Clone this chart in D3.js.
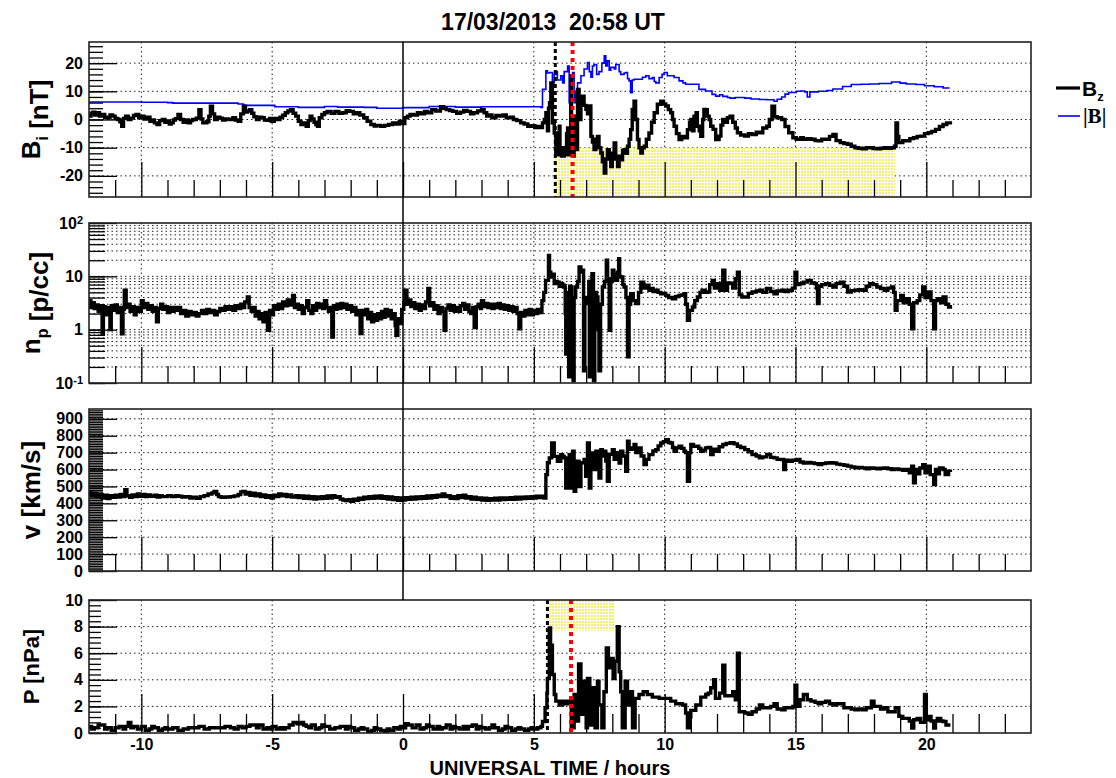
<!DOCTYPE html>
<html>
<head>
<meta charset="utf-8">
<script src="https://cdn.jsdelivr.net/npm/d3@7"></script>
<style>
  body { margin: 0; background: #fff; }
  text { font-family: "Liberation Sans", Arial, Helvetica, sans-serif; font-weight: bold; fill: #000; }
</style>
</head>
<body>
<svg id="chart" width="1116" height="778"></svg>
<script>
// ---- data ----
var hourTicks = [-10, -5, 0, 5, 10, 15, 20];
var bzTicks = [-20, -10, 0, 10, 20];
var npTicks = [0.1, 1, 10, 100];
var vTicks = [0, 100, 200, 300, 400, 500, 600, 700, 800, 900];
var pTicks = [0, 2, 4, 6, 8, 10];

var bzMarkers = [5.82, 6.48];   // black dashed, red dotted
var pMarkers = [5.52, 6.42];
var bzShade = [5.82, 18.8, -10];  // t from, t to, upper value
var pShade = [5.5, 8.1, 7.7];     // t from, t to, lower value

var bz = [[-12,1.2],[-11.92,2.2],[-11.85,2.6],[-11.78,1.6],[-11.7,2.4],[-11.6,1.2],[-11.5,1.8],[-11.4,0.8],[-11.3,0.6],[-11.2,1.6],[-11.1,1.2],[-11,0.4],[-10.9,0],[-10.82,-0.8],[-10.75,-2.4],[-10.68,0.4],[-10.6,1.2],[-10.5,0],[-10.4,0.5],[-10.3,1.4],[-10.2,1.8],[-10.1,0.6],[-10,1.2],[-9.9,0.2],[-9.8,0.8],[-9.67,-0.6],[-9.58,-0.2],[-9.5,-1.2],[-9.4,-1.8],[-9.3,-0.4],[-9.2,0],[-9.1,-1],[-9,-0.5],[-8.93,-1.6],[-8.86,-1.2],[-8.78,-0.2],[-8.7,0.3],[-8.6,1.8],[-8.5,0],[-8.4,-1],[-8.3,-0.2],[-8.2,-1.2],[-8.12,-0.4],[-8.04,0],[-7.9,0.5],[-7.8,3.5],[-7.72,0.2],[-7.65,-1.2],[-7.5,-0.8],[-7.42,1.2],[-7.36,4.7],[-7.28,2],[-7.2,0],[-7.1,0.8],[-7,0.5],[-6.9,-0.2],[-6.8,0.2],[-6.65,0],[-6.5,0.6],[-6.4,-0.2],[-6.3,-0.6],[-6.2,2],[-6.1,4.7],[-6.02,2.6],[-5.95,3],[-5.86,3.5],[-5.78,2.2],[-5.7,1],[-5.6,0],[-5.5,0.8],[-5.4,0.6],[-5.3,-0.2],[-5.2,-0.3],[-5.1,0.4],[-5.04,-0.6],[-4.92,0.4],[-4.8,0],[-4.7,0.8],[-4.6,1.5],[-4.5,2.4],[-4.4,3],[-4.3,3.5],[-4.2,2.2],[-4.1,1.2],[-4,-0.6],[-3.9,-1.8],[-3.8,-1.2],[-3.7,-2.4],[-3.62,-0.4],[-3.55,1.2],[-3.48,0.2],[-3.4,-1],[-3.33,-1.8],[-3.27,-2.4],[-3.2,0.6],[-3.1,1.8],[-3,2.4],[-2.9,2.9],[-2.75,2.2],[-2.6,2.9],[-2.45,2.2],[-2.3,2.4],[-2.17,3.1],[-2.04,2.9],[-1.9,2],[-1.77,2.4],[-1.65,1.6],[-1.5,0.6],[-1.37,-0.6],[-1.23,-1.8],[-1.1,-2.3],[-1,-2.1],[-0.85,-2.4],[-0.7,-2.1],[-0.55,-1.8],[-0.4,-1.2],[-0.27,-1.6],[-0.14,-0.6],[-0.04,-1.4],[0.07,0.6],[0.17,1.2],[0.27,1.8],[0.4,1.6],[0.55,2.4],[0.68,2],[0.82,2.9],[0.95,2.4],[1.1,3.5],[1.25,3],[1.43,4.5],[1.55,4],[1.65,3.5],[1.78,3.2],[1.9,2.9],[2.05,2.2],[2.2,2.6],[2.32,3.2],[2.45,2.9],[2.58,2],[2.7,2.4],[2.85,3],[3,3.5],[3.1,2.4],[3.2,1.2],[3.3,1.6],[3.4,0.6],[3.55,1.4],[3.68,1.2],[3.82,1.6],[3.95,0.6],[4.1,0.8],[4.22,0],[4.35,-0.4],[4.5,-1.2],[4.63,-1.6],[4.77,-2.4],[4.9,-2.2],[5.04,-2.9],[5.15,-2.5],[5.25,-2.9],
  [5.33,-1.2],[5.4,0],[5.46,2.4],[5.52,-4],[5.56,4],[5.6,6],[5.65,13],[5.71,-1.2],[5.78,-4.8],[5.84,-11.9],[5.87,-9],[5.9,-12.5],[5.93,-10],[5.97,-2.4],[6,-12],[6.03,-10],[6.06,-13],[6.1,-11],[6.13,-13],[6.16,-10],[6.19,-12.5],[6.22,-10.7],[6.25,-5],[6.29,-3],[6.32,-12],[6.35,-12.5],[6.38,-8],[6.41,15.5],[6.44,-10],[6.48,-13],[6.54,1.2],[6.6,-10.7],[6.67,10.7],[6.73,0],[6.8,5],[6.86,8.3],[6.92,5],[6.99,3.6],[7.05,2],[7.12,4.8],[7.18,-6],[7.24,-8],[7.3,-10.7],[7.37,-7],[7.43,-6],[7.49,-10],[7.56,-11.9],[7.62,-15],[7.69,-19],[7.75,-14],[7.81,-10.7],[7.88,-13],[7.94,-16.7],[8,-12],[8.07,-8.3],[8.13,-14],[8.2,-16.7],[8.26,-13],[8.32,-14.3],[8.39,-11],[8.45,-10.7],[8.51,-12],[8.58,-9.5],[8.64,-7],[8.7,-3.6],[8.76,3.6],[8.83,6.5],[8.89,0],[8.96,-7.1],[9.02,-10],[9.09,-11.9],[9.15,-10],[9.22,-9.5],[9.3,-7],[9.4,-4.8],[9.5,-1],[9.6,2.4],[9.72,5.4],[9.85,6.5],[9.95,5.5],[10.04,4.8],[10.14,3.5],[10.23,2.4],[10.3,0],[10.36,-2.4],[10.45,-5],[10.55,-7.1],[10.65,-6],[10.74,-6.5],[10.87,-3.6],[10.95,-1],[11,0],[11.06,-4],[11.12,1.2],[11.2,2.4],[11.25,-2.4],[11.32,-4],[11.38,-6],[11.45,0],[11.5,3.6],[11.56,3.5],[11.63,1.2],[11.7,0],[11.76,-2.4],[11.85,-3.5],[11.95,-7.1],[12.08,-5.9],[12.15,-2],[12.22,0],[12.3,-1],[12.4,0.6],[12.5,1.2],[12.6,-1],[12.7,-3],[12.78,-4.7],[12.9,-5.5],[13.06,-5.9],[13.2,-5],[13.34,-5.3],[13.5,-4.5],[13.62,-4.7],[13.75,-3],[13.9,-2.4],[14,0],[14.1,4.7],[14.2,1],[14.3,0.6],[14.47,0],[14.6,-2.5],[14.74,-4.7],[14.9,-6.5],[15.03,-7],[15.2,-6.5],[15.3,-7],[15.45,-6.8],[15.59,-7],[15.75,-7.5],[15.87,-7.6],[16,-7],[16.15,-7],[16.3,-6],[16.43,-5.3],[16.55,-7.5],[16.71,-8.2],[16.85,-8.5],[16.99,-8.8],[17.13,-9.5],[17.27,-10],[17.4,-10.2],[17.55,-10.4],[17.7,-10],[17.83,-10],[17.97,-10.3],[18.11,-10.4],[18.25,-10.2],[18.39,-10],[18.53,-10.2],[18.67,-10],[18.78,-9.5],[18.84,-1.2],[18.9,-6],[18.95,-8.2],[19.1,-7.5],[19.23,-7.6],[19.37,-6.8],[19.51,-6.5],[19.65,-6],[19.79,-5.9],[19.93,-5],[20.07,-4.7],[20.2,-4.2],[20.35,-3.5],[20.5,-2.5],[20.64,-1.8],[20.78,-1.2],[20.92,-1.8]];

var bt = [[-12,6.2],[-10,6.1],[-9,6],[-8.8,5.8],[-7,5.8],[-6.3,5.5],[-6.1,5],[-5,5],[-4.9,4.5],[-4,4.3],[-3,4.6],[-2.5,4.4],[-1.5,4.3],[-1,4],[0,4.2],[1,4.6],[2,4.4],[3,4.5],[4,4.5],[5,4.5],[5.27,4.3],
  [5.33,10.7],[5.46,17.3],[5.52,16.5],[5.6,16.7],[5.71,13],[5.78,16],[5.84,17],[5.9,14],[6.03,15.5],[6.1,13],[6.16,17],[6.29,19],[6.35,6],[6.41,14],[6.48,16.7],[6.54,6],[6.6,10],[6.67,13],[6.8,15.5],[6.92,17.9],[7.05,20.2],[7.12,17],[7.18,15],[7.24,19],[7.3,19.5],[7.4,16],[7.49,17],[7.6,20],[7.69,22.6],[7.75,19],[7.81,20.8],[7.88,17.5],[7.94,18.5],[8.07,17.9],[8.13,19.5],[8.2,19.5],[8.26,17],[8.32,16],[8.45,16.5],[8.51,16.7],[8.58,14.5],[8.64,13.7],[8.7,9.5],[8.76,14],[8.83,14.3],[9.02,14.3],[9.15,15],[9.28,15.5],[9.4,14.5],[9.53,14.9],[9.6,13.5],[9.66,13],[9.79,14.9],[9.9,16],[9.98,16.7],[10.1,15.5],[10.17,15.5],[10.36,14.9],[10.55,13.7],[10.7,13],[10.8,12.5],[11.06,12.5],[11.31,10.7],[11.56,10.1],[11.81,8.9],[11.95,8.3],[12.1,8.8],[12.22,8.2],[12.4,7.8],[12.5,7.6],[12.7,7.8],[13.06,7.6],[13.3,7.3],[13.62,7.1],[13.9,7],[14.18,6.5],[14.3,7.2],[14.47,8],[14.6,9],[14.74,9.6],[15.03,10],[15.2,10.1],[15.35,9.8],[15.45,8],[15.55,9.8],[15.87,10],[16.2,10.3],[16.43,10.8],[16.8,11.7],[17.13,12.4],[17.5,12.5],[17.83,12.6],[18.2,12.8],[18.67,13.3],[19,12.9],[19.23,12.6],[19.6,12.4],[19.93,12],[20.3,11.6],[20.64,11.2],[20.89,11.2]];

var np = [[-12,3.5],[-11.93,2.6],[-11.86,3.2],[-11.8,2.5],[-11.72,2.9],[-11.65,2.2],[-11.58,2.8],[-11.5,0.85],[-11.45,2.7],[-11.38,1.9],[-11.3,2.6],[-11.25,2.2],[-11.2,1],[-11.15,2.8],[-11.08,2.3],[-11,2.9],[-10.92,2.1],[-10.85,2.6],[-10.76,0.84],[-10.7,2.4],[-10.65,5.5],[-10.58,2.6],[-10.5,3],[-10.43,2.2],[-10.35,2.7],[-10.27,1.9],[-10.2,2.6],[-10.1,2.2],[-10,3.5],[-9.93,2.6],[-9.85,3.1],[-9.75,2.4],[-9.66,2.8],[-9.58,2.2],[-9.5,2.6],[-9.42,1.4],[-9.35,2.5],[-9.26,3],[-9.18,2.4],[-9.1,2.7],[-9,2.1],[-8.92,2.6],[-8.85,2.2],[-8.75,2.6],[-8.66,2.3],[-8.58,2.6],[-8.5,2],[-8.4,2.3],[-8.3,1.8],[-8.2,2.2],[-8.1,1.9],[-8,2.1],[-7.9,1.8],[-7.8,2],[-7.7,2.3],[-7.6,2],[-7.5,2.4],[-7.4,2.1],[-7.3,2.3],[-7.2,1.9],[-7.1,2.2],[-7,2.5],[-6.9,2.3],[-6.8,2.7],[-6.7,2.4],[-6.6,2.7],[-6.5,2.3],[-6.4,2.8],[-6.3,2.5],[-6.2,3],[-6.13,2.6],[-6.05,3.3],[-5.95,4.1],[-5.88,2.6],[-5.8,2.2],[-5.72,2.6],[-5.65,1.8],[-5.57,2.2],[-5.5,1.6],[-5.42,2],[-5.35,1.4],[-5.27,2.1],[-5.18,0.97],[-5.1,2.3],[-5.02,1.9],[-4.95,2.8],[-4.85,2.4],[-4.77,3],[-4.7,2.5],[-4.6,3.3],[-4.5,2.8],[-4.42,3.6],[-4.33,2.9],[-4.22,4.4],[-4.15,2.6],[-4.07,3],[-4,2.4],[-3.92,2.8],[-3.85,2],[-3.77,2.6],[-3.68,3.5],[-3.6,2.3],[-3.52,2],[-3.45,2.8],[-3.37,2.3],[-3.3,3.1],[-3.22,2.6],[-3.15,3],[-3.07,2.5],[-3,3.5],[-2.92,2.6],[-2.85,2.2],[-2.78,2.6],[-2.72,0.73],[-2.66,2.8],[-2.6,2.4],[-2.52,3],[-2.45,2.5],[-2.37,3.1],[-2.3,2.6],[-2.22,3],[-2.14,2.4],[-2.04,2.8],[-1.96,2.2],[-1.88,2.6],[-1.8,1.9],[-1.72,2.3],[-1.64,0.85],[-1.57,2.3],[-1.5,1.9],[-1.42,2.4],[-1.35,1.6],[-1.27,2.1],[-1.2,1.4],[-1.12,1.9],[-1.05,1.5],[-0.97,2],[-0.9,1.6],[-0.82,2.2],[-0.75,1.7],[-0.68,2.4],[-0.6,1.8],[-0.52,2.3],[-0.45,1.6],[-0.38,2],[-0.3,1.2],[-0.27,0.78],[-0.2,1.6],[-0.12,1.3],[-0.05,2.4],[0.03,3.2],[0.07,5.5],[0.15,3],[0.22,3.6],[0.3,2.7],[0.38,3.2],[0.45,2.5],[0.55,3],[0.62,2.3],[0.7,2.9],[0.78,2.5],[0.86,3.3],[0.95,5.9],[1.02,2.8],[1.1,3.2],[1.18,2.4],[1.26,2.8],[1.34,2],[1.42,2.6],[1.5,2.2],[1.57,0.97],[1.64,2.5],[1.72,2.9],[1.8,2.3],[1.88,2.8],[1.96,2.2],[2.04,2.6],[2.12,2.2],[2.2,2.8],[2.28,3.1],[2.36,2.4],[2.44,2.9],[2.52,2.2],[2.59,2],[2.66,2.6],[2.72,1.1],[2.8,2.7],[2.88,3],[2.95,2.5],[3,3.5],[3.08,2.7],[3.16,3.1],[3.24,2.6],[3.32,3],[3.4,2.5],[3.48,3],[3.56,2.6],[3.64,3.1],[3.72,2.5],[3.8,2.9],[3.88,2.4],[3.96,2.8],[4.04,2.3],[4.12,2.7],[4.2,2.2],[4.28,2.6],[4.36,2],[4.43,1.04],[4.5,2.1],[4.58,1.8],[4.66,2.3],[4.74,1.9],[4.82,2.4],[4.9,1.9],[4.98,2.3],[5.06,2],[5.14,2.4],[5.22,2.1],[5.31,3.5],[5.38,5],[5.45,8.4],[5.56,24.6],
  [5.6,12],[5.65,9.7],[5.72,11],[5.78,7.3],[5.84,8],[5.9,7.8],[5.97,6.5],[6.03,7.3],[6.1,6.8],[6.16,6.3],[6.2,2],[6.22,0.35],[6.26,5],[6.3,2],[6.33,0.13],[6.37,6.5],[6.41,6.3],[6.46,1.5],[6.5,0.11],[6.54,4],[6.6,6.3],[6.67,8],[6.73,15],[6.8,12],[6.86,13],[6.9,0.17],[6.95,4],[7.05,3.1],[7.1,8],[7.12,0.13],[7.18,6],[7.22,11.2],[7.28,0.11],[7.33,5],[7.4,4.1],[7.45,1],[7.49,0.17],[7.55,3],[7.62,6.3],[7.7,8],[7.77,20],[7.82,9],[7.88,0.97],[7.94,8],[8,13],[8.06,11],[8.13,8.4],[8.2,12],[8.24,21.4],[8.28,10],[8.32,9.7],[8.4,7],[8.45,6.3],[8.52,4],[8.58,0.31],[8.64,3],[8.7,4.7],[8.8,3.5],[8.89,3.1],[9,5],[9.09,7.8],[9.2,6],[9.28,6.8],[9.4,5.5],[9.47,5.9],[9.56,5.2],[9.66,5.5],[9.75,5],[9.85,4.7],[9.95,4.8],[10.04,4.4],[10.15,4],[10.29,3.8],[10.42,4.2],[10.55,4.4],[10.65,4.5],[10.74,4.7],[10.8,3],[10.87,1.5],[10.95,2.3],[11.06,2.66],[11.15,3.5],[11.25,4.1],[11.35,5],[11.43,5.5],[11.55,5],[11.63,5.1],[11.72,7],[11.82,8.4],[11.9,6],[12.01,7.3],
  [12.1,5.5],[12.22,13],[12.3,5.5],[12.4,7.5],[12.5,7.3],[12.6,6],[12.7,9],[12.78,12],[12.85,4.5],[12.95,4.1],[13.06,4.1],[13.2,4.8],[13.34,5.1],[13.5,5.3],[13.62,5.5],[13.75,5],[13.9,5.9],[14.05,5.2],[14.18,4.7],[14.3,5.3],[14.47,5.5],[14.6,5.2],[14.74,5.5],[14.88,6],[14.98,12],[15.05,7],[15.17,7.3],[15.3,7.8],[15.45,8.4],[15.6,7.5],[15.73,7.3],[15.8,6],[15.84,3.1],[15.9,6.5],[16,7],[16.15,7.3],[16.3,6.8],[16.43,6.3],[16.55,7.3],[16.71,7.8],[16.85,6.5],[16.99,5.1],[17.13,5.4],[17.27,5.5],[17.4,5.6],[17.55,5.5],[17.7,6.5],[17.83,7.3],[17.97,7],[18.11,6.3],[18.25,5.9],[18.39,5.5],[18.53,6],[18.67,6.3],[18.75,5],[18.81,2.3],[18.88,3.5],[19.02,4.4],[19.12,3.2],[19.23,3.8],[19.35,3],[19.44,1.04],[19.52,3.2],[19.65,3.5],[19.75,4.5],[19.86,6.3],[19.95,4],[20.07,5.1],[20.18,3.5],[20.28,1.04],[20.35,3.5],[20.42,3.8],[20.55,3.2],[20.64,4.1],[20.75,3],[20.85,2.66],[20.92,2.9]];

var vsw = [[-12,462],[-11.9,445],[-11.8,458],[-11.7,440],[-11.6,452],[-11.5,432],[-11.4,448],[-11.3,428],[-11.2,446],[-11.1,436],[-11,448],[-10.9,438],[-10.8,452],[-10.7,440],[-10.63,481],[-10.55,445],[-10.45,436],[-10.35,450],[-10.25,440],[-10.15,455],[-10.05,442],[-9.95,452],[-9.85,440],[-9.75,450],[-9.65,442],[-9.5,448],[-9.4,438],[-9.3,446],[-9.2,440],[-9,446],[-8.85,440],[-8.7,446],[-8.58,442],[-8.45,438],[-8.3,440],[-8.15,432],[-8.04,436],[-7.9,430],[-7.75,440],[-7.6,446],[-7.45,455],[-7.3,462],[-7.22,471],[-7.12,452],[-7.05,440],[-6.95,436],[-6.8,438],[-6.6,440],[-6.45,444],[-6.3,452],[-6.2,468],[-6.13,471],[-6.03,455],[-5.95,465],[-5.85,448],[-5.75,460],[-5.65,445],[-5.55,456],[-5.45,440],[-5.35,450],[-5.25,436],[-5.15,446],[-5.04,432],[-4.95,448],[-4.85,440],[-4.75,456],[-4.65,444],[-4.55,452],[-4.45,440],[-4.35,450],[-4.25,438],[-4.1,446],[-4,434],[-3.9,444],[-3.8,430],[-3.7,442],[-3.6,428],[-3.5,440],[-3.4,426],[-3.3,438],[-3.2,428],[-3.1,440],[-3,430],[-2.9,444],[-2.8,432],[-2.7,446],[-2.6,436],[-2.5,440],[-2.4,426],[-2.3,420],[-2.2,416],[-2.1,422],[-2,412],[-1.9,425],[-1.8,418],[-1.7,430],[-1.6,424],[-1.5,436],[-1.4,428],[-1.3,440],[-1.2,430],[-1.1,442],[-1,432],[-0.9,444],[-0.8,430],[-0.7,440],[-0.6,426],[-0.5,438],[-0.4,422],[-0.3,434],[-0.2,418],[-0.1,432],[0,420],[0.1,434],[0.2,424],[0.3,436],[0.4,426],[0.5,438],[0.6,428],[0.7,440],[0.8,430],[0.9,444],[1,432],[1.1,446],[1.2,436],[1.3,448],[1.4,440],[1.5,455],[1.6,440],[1.7,446],[1.8,430],[1.9,440],[2,428],[2.1,446],[2.2,434],[2.3,448],[2.4,432],[2.5,440],[2.6,426],[2.7,436],[2.8,424],[2.9,432],[3,420],[3.1,430],[3.2,418],[3.3,428],[3.4,420],[3.5,430],[3.6,420],[3.7,432],[3.8,422],[3.9,432],[4,424],[4.1,434],[4.2,424],[4.3,436],[4.4,426],[4.5,436],[4.6,428],[4.7,438],[4.8,430],[4.9,440],[5,432],[5.1,442],[5.2,434],[5.31,442],
  [5.39,432],[5.46,570],[5.52,640],[5.59,669],[5.68,757],[5.78,678],[5.9,649],[6.03,688],[6.1,678],[6.16,669],[6.22,491],[6.29,640],[6.35,688],[6.41,491],[6.48,708],[6.54,471],[6.6,600],[6.67,649],[6.73,500],[6.8,640],[6.92,659],[6.98,560],[7.05,757],[7.12,491],[7.18,650],[7.24,698],[7.3,600],[7.37,708],[7.43,620],[7.49,550],[7.56,718],[7.62,680],[7.69,708],[7.75,650],[7.81,531],[7.88,690],[8,718],[8.07,660],[8.13,688],[8.2,700],[8.26,639],[8.32,708],[8.4,680],[8.51,590],[8.58,767],[8.64,720],[8.77,728],[8.83,748],[8.9,700],[9.02,728],[9.1,680],[9.21,629],[9.3,660],[9.4,688],[9.55,710],[9.66,718],[9.75,740],[9.85,757],[9.95,765],[10.04,777],[10.14,760],[10.23,757],[10.3,730],[10.36,708],[10.45,728],[10.55,738],[10.65,725],[10.74,708],[10.8,700],[10.87,531],[10.95,700],[11,748],[11.1,738],[11.19,738],[11.3,725],[11.38,708],[11.47,715],[11.56,728],[11.66,730],[11.76,688],[11.85,720],[11.95,708],
  [12.08,735],[12.22,748],[12.35,755],[12.5,758],[12.65,752],[12.78,738],[12.9,730],[13.06,718],[13.2,705],[13.34,689],[13.5,680],[13.62,669],[13.75,675],[13.9,689],[14.05,672],[14.18,669],[14.3,660],[14.47,659],[14.55,600],[14.62,655],[14.74,649],[14.88,655],[15.03,659],[15.17,645],[15.3,639],[15.45,642],[15.59,639],[15.73,635],[15.87,629],[16,635],[16.15,639],[16.3,640],[16.43,639],[16.57,632],[16.71,629],[16.85,625],[16.99,620],[17.13,615],[17.27,610],[17.41,612],[17.55,610],[17.7,605],[17.83,610],[17.97,608],[18.11,604],[18.25,608],[18.39,610],[18.53,605],[18.67,600],[18.8,604],[18.95,600],[19.1,595],[19.23,600],[19.35,580],[19.44,620],[19.51,521],[19.58,600],[19.65,575],[19.75,610],[19.86,629],[19.95,580],[20.07,620],[20.15,570],[20.28,511],[20.35,600],[20.42,575],[20.5,610],[20.64,600],[20.72,570],[20.85,590],[20.92,585]];

var pdyn = [[-12,0.5],[-11.9,0.3],[-11.8,0.4],[-11.65,0.6],[-11.5,0.6],[-11.4,0.3],[-11.3,0.4],[-11.15,0.2],[-11,0.4],[-10.85,0.5],[-10.7,0.3],[-10.6,0.5],[-10.5,0.8],[-10.4,0.4],[-10.3,0.5],[-10.15,0.3],[-10,0.5],[-9.85,0.2],[-9.7,0.3],[-9.6,0.5],[-9.5,0.4],[-9.35,0.2],[-9.2,0.3],[-9.1,0.4],[-9,0.3],[-8.8,0.4],[-8.6,0.2],[-8.4,0.3],[-8.2,0.4],[-8,0.4],[-7.8,0.5],[-7.6,0.3],[-7.4,0.4],[-7.2,0.4],[-7,0.4],[-6.8,0.5],[-6.6,0.4],[-6.45,0.3],[-6.3,0.5],[-6.15,0.4],[-6,0.5],[-5.85,0.6],[-5.7,0.6],[-5.6,0.4],[-5.5,0.6],[-5.35,0.3],[-5.2,0.4],[-5.1,0.3],[-5,0.5],[-4.85,0.3],[-4.7,0.4],[-4.6,0.3],[-4.5,0.4],[-4.35,0.6],[-4.2,0.8],[-4.05,0.7],[-3.9,0.8],[-3.8,0.6],[-3.7,0.5],[-3.6,0.4],[-3.5,0.6],[-3.35,0.3],[-3.2,0.4],[-3.1,0.6],[-3,0.5],[-2.8,0.3],[-2.6,0.4],[-2.4,0.5],[-2.2,0.3],[-2.1,0.5],[-2,0.4],[-1.85,0.2],[-1.7,0.3],[-1.6,0.4],[-1.5,0.3],[-1.35,0.1],[-1.2,0.2],[-1.1,0.4],[-1,0.3],[-0.85,0.2],[-0.7,0.1],[-0.6,0.3],[-0.5,0.2],[-0.35,0.4],[-0.2,0.3],[-0.1,0.5],[0,0.4],[0.1,0.7],[0.2,0.6],[0.35,0.4],[0.5,0.6],[0.65,0.3],[0.8,0.4],[0.9,0.6],[1,0.5],[1.15,0.3],[1.3,0.5],[1.4,0.3],[1.5,0.4],[1.65,0.6],[1.8,0.3],[1.9,0.5],[2,0.4],[2.15,0.3],[2.3,0.5],[2.4,0.3],[2.5,0.5],[2.65,0.6],[2.8,0.3],[2.9,0.5],[3,0.4],[3.15,0.3],[3.3,0.4],[3.4,0.6],[3.5,0.4],[3.65,0.2],[3.8,0.3],[3.9,0.5],[4,0.4],[4.15,0.2],[4.3,0.3],[4.4,0.4],[4.5,0.3],[4.65,0.2],[4.8,0.3],[4.9,0.4],[5,0.3],[5.15,0.4],[5.27,0.5],
  [5.33,0.87],[5.43,1.9],[5.5,3],[5.52,4.1],[5.59,7.9],[5.64,6.6],[5.71,4.4],[5.78,2.9],[5.84,2.4],[5.97,2.1],[6.1,2.4],[6.22,2.2],[6.35,2.4],[6.43,0.4],[6.54,2.9],[6.6,0.9],[6.71,5.2],[6.8,1.4],[6.89,3.9],[7,0.4],[7.05,4.1],[7.14,0.6],[7.24,3.4],[7.34,0.4],[7.43,3.9],[7.49,2.1],[7.6,0.4],[7.68,3.1],[7.77,6.4],[7.85,4.9],[7.94,5.6],[8.03,4.1],[8.1,5.4],[8.19,8],[8.26,4.6],[8.32,3.1],[8.38,0.4],[8.49,3.9],[8.58,2.1],[8.68,3.1],[8.77,0.4],[8.87,2.6],[9.02,2.9],[9.18,3.1],[9.34,2.9],[9.53,2.7],[9.79,2.6],[9.98,2.6],[10.23,2.4],[10.42,2.2],[10.68,2.1],[10.8,1.5],[10.87,0.4],[10.95,1.2],[11,1.7],[11.19,2.1],[11.38,2.7],[11.57,2.9],[11.66,3],[11.76,3.4],[11.87,4],[11.94,2.6],[12,2.6],[12.1,3],[12.22,5.1],[12.3,2.8],[12.5,2.8],[12.6,3.1],[12.7,2.5],[12.78,6],[12.85,1.6],[13.06,1.5],[13.2,1.4],[13.34,1.6],[13.5,1.8],[13.62,2.1],[13.75,1.9],[13.9,1.9],[14.05,2],[14.18,2.2],[14.3,1.8],[14.47,1.75],[14.6,1.9],[14.74,1.9],[14.9,2],[14.98,3.6],[15.05,2],[15.17,2.5],[15.3,2.9],[15.45,2.5],[15.59,2.4],[15.75,2.3],[15.87,2.2],[16,2.3],[16.15,2.4],[16.3,2.2],[16.43,2.1],[16.57,2.2],[16.71,2.2],[16.85,1.9],[16.99,1.9],[17.13,1.8],[17.27,1.75],[17.41,1.8],[17.55,1.75],[17.7,1.9],[17.9,2.4],[18,2],[18.11,2],[18.25,1.8],[18.39,1.9],[18.53,1.6],[18.67,1.6],[18.81,1.9],[18.95,1.25],[19.1,1.1],[19.23,1.1],[19.35,0.9],[19.44,0.37],[19.52,1],[19.65,1.1],[19.78,0.8],[19.93,2.9],[20,1],[20.07,1.25],[20.18,0.9],[20.28,0.37],[20.35,0.9],[20.42,1.1],[20.55,0.9],[20.64,0.87],[20.75,0.6],[20.85,0.6],[20.92,0.6]];

// ---- layout ----
var svg = d3.select("#chart");
var defs = svg.append("defs");
var left = 89, right = 1031;

var x = d3.scaleLinear().domain([-12, 24]).range([left, right]);
var hourMinor = d3.range(-11, 24).filter(function(h) { return h % 5 !== 0; });

var pat = defs.append("pattern").attr("id", "yellowdots")
    .attr("width", 3).attr("height", 3).attr("patternUnits", "userSpaceOnUse");
pat.append("rect").attr("width", 3).attr("height", 3).attr("fill", "#fffef0");
pat.append("rect").attr("width", 2).attr("height", 2).attr("fill", "#f3ee7a");

function logMinor(lo, hi) {
  var out = [];
  for (var d = lo; d < hi; d *= 10)
    for (var k = 1; k <= 9; k++) out.push(+(k * d).toPrecision(3));
  out.push(hi);
  return out;
}

var panels = [
  { key: "bz", top: 42, bottom: 197, y: d3.scaleLinear().domain([-27.5, 27.5]),
    major: bzTicks, minor: d3.range(-26, 27, 2), grid: bzTicks,
    xMinor: 17, xMajor: 35, yMinor: 14 },
  { key: "np", top: 223, bottom: 383, y: d3.scaleLog().domain([0.1, 100]),
    major: npTicks, minor: logMinor(0.1, 100), grid: logMinor(0.1, 100),
    xMinor: 17, xMajor: 36, yMinor: 16 },
  { key: "v", top: 409, bottom: 571, y: d3.scaleLinear().domain([0, 958]),
    major: vTicks, minor: d3.range(0, 951, 10), grid: vTicks,
    xMinor: 17, xMajor: 34, yMinor: 14 },
  { key: "p", top: 600, bottom: 733, y: d3.scaleLinear().domain([0, 10]),
    major: pTicks, minor: d3.range(0, 10.01, 0.4), grid: pTicks,
    xMinor: 19, xMajor: 39, yMinor: 12, xLabels: true }
];

var byKey = {};

panels.forEach(function(p) {
  p.y.range([p.bottom, p.top]);
  byKey[p.key] = p;
  var g = svg.append("g").attr("class", "panel-" + p.key);

  defs.append("clipPath").attr("id", "clip-" + p.key)
    .append("rect").attr("x", left).attr("y", p.top)
    .attr("width", right - left).attr("height", p.bottom - p.top);

  // horizontal dotted grid
  g.append("g").selectAll("line")
    .data(p.grid.filter(function(v) { return v > p.y.domain()[0] && v < p.y.domain()[1]; }))
    .join("line")
      .attr("x1", left).attr("x2", right)
      .attr("y1", function(d) { return p.y(d); }).attr("y2", function(d) { return p.y(d); })
      .attr("stroke", "#222").attr("stroke-width", 1).attr("stroke-dasharray", "1.5,3");

  // vertical dotted grid
  g.append("g").selectAll("line")
    .data(hourTicks.filter(function(h) { return h !== 0; }))
    .join("line")
      .attr("x1", function(d) { return x(d); }).attr("x2", function(d) { return x(d); })
      .attr("y1", p.top).attr("y2", p.bottom)
      .attr("stroke", "#222").attr("stroke-width", 1).attr("stroke-dasharray", "1.5,3");
});

// shaded (yellow) intervals
var pb = byKey.bz;
svg.append("rect")
  .attr("x", x(bzShade[0])).attr("width", x(bzShade[1]) - x(bzShade[0]))
  .attr("y", pb.y(bzShade[2])).attr("height", pb.bottom - pb.y(bzShade[2]))
  .attr("fill", "url(#yellowdots)");
var pp = byKey.p;
svg.append("rect")
  .attr("x", x(pShade[0])).attr("width", x(pShade[1]) - x(pShade[0]))
  .attr("y", pp.top).attr("height", pp.y(pShade[2]) - pp.top)
  .attr("fill", "url(#yellowdots)");

// series
function drawSeries(p, data, color, width) {
  var line = d3.line()
    .curve(d3.curveStepAfter)
    .x(function(d) { return x(d[0]); })
    .y(function(d) { return p.y(d[1]); });
  svg.append("path")
    .datum(data)
    .attr("clip-path", "url(#clip-" + p.key + ")")
    .attr("fill", "none")
    .attr("stroke", color)
    .attr("stroke-width", width)
    .attr("stroke-linejoin", "miter")
    .attr("d", line);
}
drawSeries(byKey.bz, bt, "#0000ff", 1.6);
drawSeries(byKey.bz, bz, "#000", 3.4);
drawSeries(byKey.np, np, "#000", 3.4);
drawSeries(byKey.v, vsw, "#000", 3.4);
drawSeries(byKey.p, pdyn, "#000", 3.4);

// axes (ticks pointing inward)
panels.forEach(function(p) {
  var g = svg.append("g").attr("class", "axes-" + p.key);

  var xMin = g.append("g").attr("transform", "translate(0," + p.bottom + ")")
    .call(d3.axisBottom(x).tickValues(hourMinor).tickSize(-p.xMinor).tickFormat(""));
  var xMaj = g.append("g").attr("transform", "translate(0," + p.bottom + ")")
    .call(d3.axisBottom(x).tickValues(hourTicks).tickSize(-p.xMajor).tickPadding(6)
      .tickFormat(function(d) { return p.xLabels ? String(d) : ""; }));

  var yMin = g.append("g").attr("transform", "translate(" + left + ",0)")
    .call(d3.axisLeft(p.y).tickValues(p.minor).tickSize(-p.yMinor).tickFormat(""));
  var yMaj = g.append("g").attr("transform", "translate(" + left + ",0)")
    .call(d3.axisLeft(p.y).tickValues(p.major).tickSize(-28).tickPadding(6)
      .tickFormat(function(d) {
        if (p.key === "np") return d === 100 || d === 0.1 ? "10" : String(d);
        return String(d);
      }));

  [xMin, xMaj, yMin, yMaj].forEach(function(a) {
    a.select(".domain").remove();
    a.selectAll(".tick line").attr("stroke", "#000").attr("stroke-width", 1.3);
    a.attr("font-family", null).attr("font-size", 16);
    a.selectAll("text").attr("font-weight", "bold");
  });

  if (p.key === "np") {
    yMaj.selectAll(".tick text").each(function(d) {
      if (d === 100 || d === 0.1) {
        d3.select(this).append("tspan")
          .attr("dy", "-0.45em").attr("font-size", 11)
          .text(d === 100 ? "2" : "-1");
      }
    });
  }
});

// event markers
function marker(p, t, color, width, dash) {
  svg.append("line")
    .attr("x1", x(t)).attr("x2", x(t))
    .attr("y1", p.top).attr("y2", p.bottom)
    .attr("stroke", color).attr("stroke-width", width)
    .attr("stroke-dasharray", dash);
}
marker(byKey.bz, bzMarkers[0], "#000", 3, "4,3");
marker(byKey.bz, bzMarkers[1], "#ff0000", 4, "4,4");
marker(byKey.p, pMarkers[0], "#000", 3, "4,3");
marker(byKey.p, pMarkers[1], "#ff0000", 4, "4,4");

// frames
panels.forEach(function(p) {
  svg.append("rect")
    .attr("x", left).attr("y", p.top)
    .attr("width", right - left).attr("height", p.bottom - p.top)
    .attr("fill", "none").attr("stroke", "#222").attr("stroke-width", 1.6);
});

// solid line at t = 0 across the upper three panels
svg.append("line")
  .attr("x1", x(0)).attr("x2", x(0))
  .attr("y1", byKey.bz.top).attr("y2", byKey.p.top)
  .attr("stroke", "#000").attr("stroke-width", 1.5);

// y-axis titles
function yTitle(p, parts, size, xPos) {
  var t = svg.append("text")
    .attr("transform", "translate(" + xPos + "," + ((p.top + p.bottom) / 2) + ") rotate(-90)")
    .attr("text-anchor", "middle")
    .attr("font-size", size);
  parts.forEach(function(s) {
    if (s.sub) {
      t.append("tspan").attr("font-size", size * 0.62).attr("dy", size * 0.3).text(s.sub);
      t.append("tspan").attr("dy", -size * 0.3).text("");
    } else {
      t.append("tspan").text(s.t);
    }
  });
}
yTitle(byKey.bz, [{t: "B"}, {sub: "i"}, {t: " [nT]"}], 26, 40);
yTitle(byKey.np, [{t: "n"}, {sub: "p"}, {t: " [p/cc]"}], 26, 40);
yTitle(byKey.v, [{t: "v [km/s]"}], 26, 40);
yTitle(byKey.p, [{t: "P [nPa]"}], 22, 39);

// title and x-axis title
svg.append("text").attr("x", 553).attr("y", 30).attr("text-anchor", "middle")
  .attr("font-size", 23).attr("xml:space", "preserve").text("17/03/2013  20:58 UT");
svg.append("text").attr("x", 550).attr("y", 775).attr("text-anchor", "middle")
  .attr("font-size", 20).text("UNIVERSAL TIME / hours");

// legend
svg.append("line").attr("x1", 1056).attr("x2", 1080).attr("y1", 88).attr("y2", 88)
  .attr("stroke", "#000").attr("stroke-width", 3.2);
var lb = svg.append("text").attr("x", 1082).attr("y", 96).attr("font-size", 21);
lb.append("tspan").text("B");
lb.append("tspan").attr("font-size", 13).attr("dy", 5).text("z");
svg.append("line").attr("x1", 1058).attr("x2", 1080).attr("y1", 116).attr("y2", 116)
  .attr("stroke", "#0000ff").attr("stroke-width", 1.6);
svg.append("text").attr("x", 1083).attr("y", 123).attr("font-size", 21)
  .style("font-family", "'Liberation Serif', 'DejaVu Serif', serif").text("|B|");
</script>
</body>
</html>
